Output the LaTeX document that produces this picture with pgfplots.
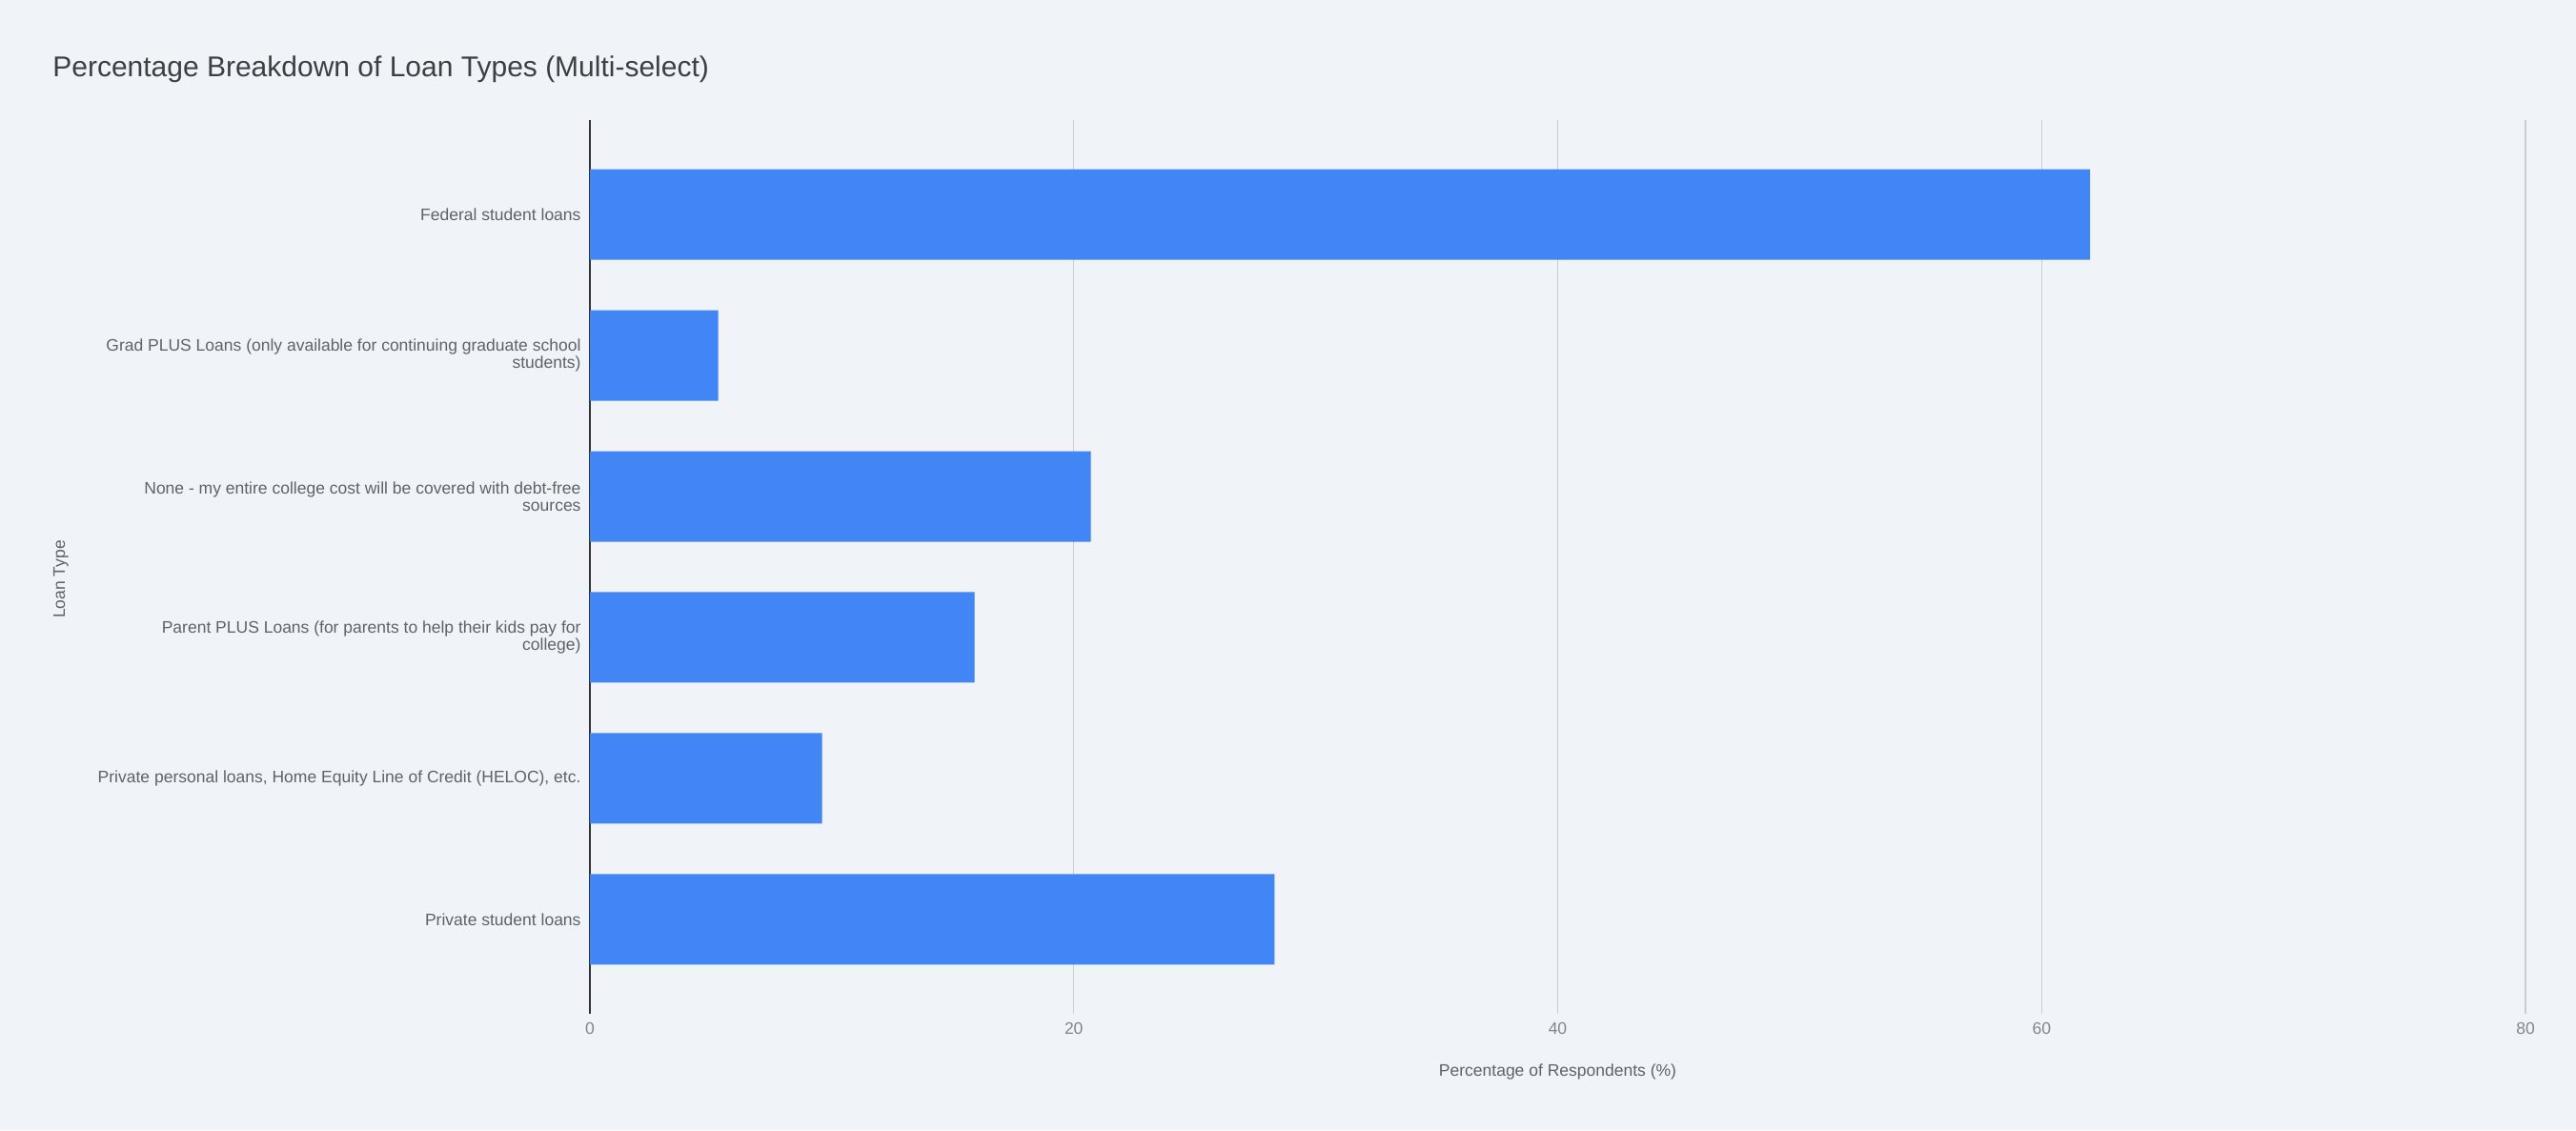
\documentclass[border=0pt]{standalone}
\usepackage{fontspec}
\setmainfont{Liberation Sans}
\usepackage{pgfplots}
\pgfplotsset{compat=1.18}
\definecolor{bg}{HTML}{F0F4F9}
\definecolor{barblue}{HTML}{4285F4}
\definecolor{titlegray}{HTML}{3C4043}
\definecolor{labgray}{HTML}{5F6368}
\definecolor{tickgray}{HTML}{80868B}
\definecolor{gridgray}{HTML}{C9CDD2}
\begin{document}
\begin{tikzpicture}
\fill[bg] (0,0) rectangle (1081.2pt,474.4pt);
\begin{axis}[
    at={(247.6pt,48.8pt)}, anchor=south west,
    scale only axis,
    width=812.4pt, height=375.2pt,
    xbar, bar width=38pt,
    xmin=0, xmax=80,
    ymin=-0.67, ymax=5.67,
    y dir=reverse,
    xtick={0,20,40,60,80},
    ytick={0,1,2,3,4,5},
    yticklabels={{Federal student loans},
      {Grad PLUS Loans (only available for continuing graduate school\\students)},
      {None - my entire college cost will be covered with debt-free\\sources},
      {Parent PLUS Loans (for parents to help their kids pay for\\college)},
      {Private personal loans, Home Equity Line of Credit (HELOC), etc.},
      {Private student loans}},
    axis x line*=bottom, axis y line*=left,
    x axis line style={draw=none},
    y axis line style={draw=black!80, line width=0.5pt},
    major tick length=0pt,
    xmajorgrids, grid style={gridgray, line width=0.5pt},
    tick label style={font=\fontsize{7}{7.3}\selectfont},
    xticklabel style={tickgray, /pgf/number format/assume math mode=true},
    yticklabel style={labgray, align=right, anchor=east, inner sep=0pt, xshift=-3.6pt},
    xlabel={Percentage of Respondents (\%)},
    ylabel={Loan Type},
    label style={labgray, font=\fontsize{7}{8}\selectfont},
    xlabel style={at={(axis description cs:0.5,0)}, anchor=center, yshift=-24.4pt},
    ylabel style={at={(axis description cs:0,0.5)}, anchor=center, yshift=222pt, xshift=-5.2pt},
    title={Percentage Breakdown of Loan Types (Multi-select)},
    title style={titlegray, font=\fontsize{12}{14}\selectfont, anchor=base west,
      at={(rel axis cs:0,1)}, xshift=-229pt, yshift=12pt},
    ]
\addplot[fill=barblue, draw=none] coordinates {
(62.0,0) (5.3,1) (20.7,2) (15.9,3) (9.6,4) (28.3,5)};
\end{axis}
\pgfresetboundingbox
\path (0,0) rectangle (1081.2pt,474.4pt);
\end{tikzpicture}
\end{document}
